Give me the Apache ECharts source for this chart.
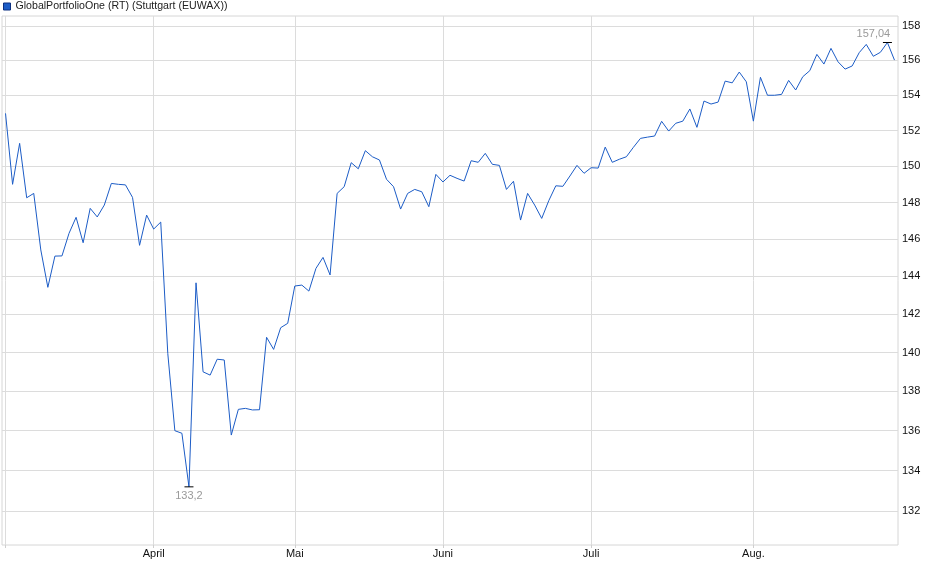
<!DOCTYPE html>
<html lang="de">
<head>
    <meta charset="UTF-8">
    <title>GlobalPortfolioOne</title>
    <script src="https://cdn.jsdelivr.net/npm/echarts@6/dist/echarts.min.js"></script>
    <style>
        html, body { margin: 0; padding: 0; background: #fff; }
        #main { width: 940px; height: 579px; }
    </style>
</head>
<body>
<div id="main"></div>
<script type="text/javascript">
    // Handelstage Stuttgart (EUWAX), 03.03.2025 - 29.08.2025
    var startTag = '2025-03-03';
    var endTag = '2025-08-29';
    var feiertage = ['2025-04-18', '2025-04-21', '2025-05-01'];
    var monate = ['', '', '', 'März', 'April', 'Mai', 'Juni', 'Juli', 'Aug.'];
    var yTicks = [132, 134, 136, 138, 140, 142, 144, 146, 148, 150, 152, 154, 156, 158];

    // Schlusskurse, je Zeile ein Monat (März .. August)
    var kurs = [
        152.97, 149.00, 151.28, 148.26, 148.50, 145.42, 143.42, 145.09, 145.10, 146.32, 147.19,
        145.81, 147.68, 147.21, 147.86, 149.05, 149.00, 148.97, 148.28, 145.67, 147.31,
        146.55, 146.93, 139.95, 136.00, 135.87, 133.20, 143.66, 139.00, 138.83, 139.65,
        139.61, 135.78, 137.08, 137.13, 137.05, 137.06, 140.79, 140.16, 141.29, 141.52,
        143.49, 143.54, 143.22, 144.43, 145.02, 144.08, 148.50, 148.87, 150.20, 149.86, 150.87,
        150.53, 150.35, 149.28, 148.87, 147.64, 148.50, 148.72, 148.59, 147.77, 149.55,
        149.13, 149.50, 149.33, 149.18, 150.31, 150.22, 150.72, 150.11, 150.05, 148.72, 149.17,
        147.04, 148.50, 147.86, 147.13, 148.10, 148.92, 148.89, 149.46, 150.05, 149.61,
        149.92, 149.90, 151.07, 150.22, 150.39, 150.53, 151.06, 151.56, 151.63, 151.69, 152.52,
        151.97, 152.41, 152.53, 153.22, 152.18, 153.67, 153.50, 153.61, 154.81, 154.71, 155.33, 154.77,
        152.53, 155.03, 154.00, 154.00, 154.05, 154.85, 154.30, 155.06, 155.41, 156.35, 155.79,
        156.70, 155.92, 155.50, 155.68, 156.45, 156.93, 156.24, 156.47, 157.04, 156.02
    ];

    var tage = [];
    var d = new Date(startTag + 'T12:00:00Z');
    var ende = new Date(endTag + 'T12:00:00Z');
    while (d <= ende) {
        var s = d.toISOString().slice(0, 10);
        var wd = d.getUTCDay();
        if (wd != 0 && wd != 6 && feiertage.indexOf(s) < 0) {
            tage.push(s);
        }
        d.setUTCDate(d.getUTCDate() + 1);
    }

    // erster Handelstag im Monat
    function monatsAnfang(index) {
        return index == 0 || tage[index].slice(5, 7) != tage[index - 1].slice(5, 7);
    }

    var schrift = '"Liberation Sans", Arial, sans-serif';
    var myChart = echarts.init(document.getElementById('main'));

    option = {
        animation: false,
        legend: {
            left: 3,
            top: 1,
            padding: 0,
            icon: 'rect',
            itemWidth: 7,
            itemHeight: 7,
            itemGap: 5,
            itemStyle: {borderColor: '#0b2f80', borderWidth: 1},
            textStyle: {fontSize: 10.6, color: '#222', fontFamily: schrift}
        },
        grid: {
            left: 2,
            right: 42,
            top: 16,
            bottom: 34,
            show: true,
            borderColor: '#d6d6d6',
            borderWidth: 1
        },
        xAxis: {
            type: 'category',
            data: tage,
            boundaryGap: true,
            axisLine: {show: false},
            axisTick: {
                show: true,
                alignWithLabel: true,
                length: 3,
                interval: function (index) { return monatsAnfang(index); },
                lineStyle: {color: '#cfcfcf'}
            },
            axisLabel: {
                margin: 3,
                fontSize: 11,
                color: '#111',
                fontFamily: schrift,
                interval: function (index) { return index > 0 && monatsAnfang(index); },
                formatter: function (value) { return monate[parseInt(value.slice(5, 7), 10)]; }
            },
            splitLine: {
                show: true,
                alignWithLabel: true,
                interval: function (index) { return monatsAnfang(index); },
                lineStyle: {color: '#dcdcdc'}
            }
        },
        yAxis: {
            type: 'log',
            position: 'right',
            min: 130.36,
            max: 158.59,
            axisLine: {show: false},
            axisTick: {show: false, customValues: yTicks},
            axisLabel: {
                customValues: yTicks,
                margin: 4,
                fontSize: 11,
                color: '#111',
                fontFamily: schrift
            },
            splitLine: {show: true, lineStyle: {color: '#dcdcdc'}}
        },
        series: [
            {
                name: 'GlobalPortfolioOne (RT) (Stuttgart (EUWAX))',
                type: 'line',
                data: kurs,
                symbol: 'none',
                lineStyle: {color: '#1c5cc6', width: 1},
                itemStyle: {color: '#1c5cc6'},
                markPoint: {
                    symbol: 'rect',
                    symbolSize: [9, 1],
                    itemStyle: {color: '#000'},
                    label: {
                        fontSize: 11,
                        color: '#9a9a9a',
                        fontFamily: schrift,
                        formatter: function (p) { return String(p.value).replace('.', ','); }
                    },
                    data: [
                        {type: 'min', label: {position: 'bottom', distance: 3}},
                        {type: 'max', label: {position: 'top', distance: 3, offset: [-14, 0]}}
                    ]
                }
            }
        ]
    };

    myChart.setOption(option);
</script>
</body>
</html>
